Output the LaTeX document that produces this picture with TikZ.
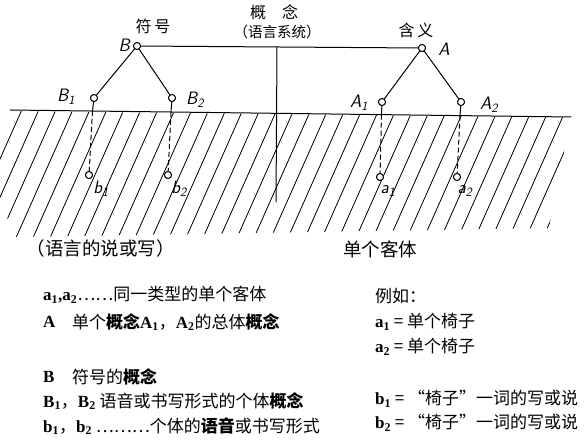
\documentclass[tikz,border=0pt]{standalone}
\usepackage{fontspec}
\setmainfont{Liberation Serif}
\newfontfamily\cjk{Noto Sans CJK SC}
\usetikzlibrary{calc}
\newcommand{\sbt}[1]{\textsubscript{#1}}
\begin{document}
\begin{tikzpicture}[x=1pt,y=-1pt,
  pt/.style={circle,draw,fill=white,inner sep=0pt,minimum size=7pt,line width=0.9pt},
  conn/.style={line width=1pt},
  dashconn/.style={line width=1pt,dash pattern=on 5pt off 3pt},
  hatchline/.style={line width=0.8pt},
  lbl/.style={font=\fontsize{18}{18}\selectfont\sffamily\itshape,inner sep=1pt},
  cjklbl/.style={font=\fontsize{16}{16}\selectfont\cjk,inner sep=0pt},
  biglbl/.style={font=\fontsize{18.5}{18.5}\selectfont\cjk,inner sep=0pt},
  legend/.style={anchor=west,inner sep=0pt,font=\fontsize{17}{17}\selectfont\cjk}]
\useasboundingbox[fill=white] (0,0) rectangle (584,441);

% hatched ground
\begin{scope}
  \clip (10,111) -- (571,117.5) -- (549,228) -- (15,237) -- (0,200) -- (0,125) -- cycle;
  \foreach \x in {-70,-53,...,620} {
    \draw[hatchline] (\x,240) -- (\x+60,105);
  }
\end{scope}

% ground line
\coordinate (gl) at (10,110);
\coordinate (gr) at (571,117);
\draw[conn] (gl) -- (gr);

% nodes
\node[pt] (B)  at (137,46) {};
\node[pt] (B1) at (94,98) {};
\node[pt] (B2) at (172,98) {};
\node[pt] (A)  at (422,48) {};
\node[pt] (A1) at (382,102) {};
\node[pt] (A2) at (461,102) {};
\node[pt] (b1) at (89,175) {};
\node[pt] (b2) at (168,175) {};
\node[pt] (a1) at (380,177) {};
\node[pt] (a2) at (457,177) {};

% ground intersection points
\coordinate (gB1) at (92.5,111);
\coordinate (gB2) at (171,112);
\coordinate (gA1) at (381.5,114.6);
\coordinate (gA2) at (460,115.6);
\coordinate (ctop) at (277,47);
\coordinate (cbot) at (276,202);

% connectors
\draw[conn] (B) -- (A);
\draw[conn] (ctop) -- (cbot);
\draw[conn] (B) -- (B1);
\draw[conn] (B) -- (B2);
\draw[conn] (A) -- (A1);
\draw[conn] (A) -- (A2);
\draw[conn] (B1) -- (gB1);
\draw[conn] (B2) -- (gB2);
\draw[conn] (A1) -- (gA1);
\draw[conn] (A2) -- (gA2);
\draw[dashconn] (gB1) -- (b1);
\draw[dashconn] (gB2) -- (b2);
\draw[dashconn] (gA1) -- (a1);
\draw[dashconn] (gA2) -- (a2);

% redraw circles on top
\foreach \n in {B,B1,B2,A,A1,A2,b1,b2,a1,a2} {\node[pt] at (\n) {};}

% letter labels
\node[lbl,anchor=east] (lB) at (131,45) {B};
\node[lbl] (lB1) at (66,97) {B\sbt{1}};
\node[lbl] (lB2) at (195,100) {B\sbt{2}};
\node[lbl] (lA) at (444,49) {A};
\node[lbl] (lA1) at (359,103) {A\sbt{1}};
\node[lbl] (lA2) at (489,105) {A\sbt{2}};
\node[lbl] (lb1) at (101,189) {b\sbt{1}};
\node[lbl] (lb2) at (179,189) {b\sbt{2}};
\node[lbl] (la1) at (388,191) {a\sbt{1}};
\node[lbl] (la2) at (465,191) {a\sbt{2}};

% chinese labels in diagram
\node[cjklbl] (fuhao) at (153,26) {符\,号};
\node[cjklbl] (hanyi) at (416,30) {含\,义};
\node[cjklbl] (gainian) at (274,12) {概\quad 念};
\node[cjklbl,font=\fontsize{14.5}{14.5}\selectfont\cjk] (yuyan) at (277,32) {（语言系统）};
\node[biglbl] (shuo) at (101,248) {（语言的说或写）};
\node[biglbl] (keti) at (380,249) {单个客体};

% legend left
\node[legend] (L1) at (43,295) {{\bfseries\rmfamily a\sbt{1},a\sbt{2}}……同一类型的单个客体};
\node[legend] (L2a) at (43,322) {\bfseries\rmfamily A};
\node[legend] (L2) at (72,322) {单个{\bfseries 概念}{\bfseries\rmfamily A\sbt{1}}，{\bfseries\rmfamily A\sbt{2}}的总体{\bfseries 概念}};
\node[legend] (L3a) at (43,377) {\bfseries\rmfamily B};
\node[legend] (L3) at (72,377) {符号的{\bfseries 概念}};
\node[legend] (L4) at (43,401) {{\bfseries\rmfamily B\sbt{1}}，{\bfseries\rmfamily B\sbt{2}} 语音或书写形式的个体{\bfseries 概念}};
\node[legend] (L5) at (43,426) {{\bfseries\rmfamily b\sbt{1}}，{\bfseries\rmfamily b\sbt{2}} ………个体的{\bfseries 语音}或书写形式};

% legend right
\node[legend] (R1) at (375,296) {例如：};
\node[legend] (R2) at (375,322) {{\bfseries\rmfamily a\sbt{1}} = 单个椅子};
\node[legend] (R3) at (375,347) {{\bfseries\rmfamily a\sbt{2}} = 单个椅子};
\node[legend] (R4) at (375,399) {{\bfseries\rmfamily b\sbt{1}} = “椅子”一词的写或说};
\node[legend] (R5) at (375,423) {{\bfseries\rmfamily b\sbt{2}} = “椅子”一词的写或说};
\end{tikzpicture}
\end{document}
